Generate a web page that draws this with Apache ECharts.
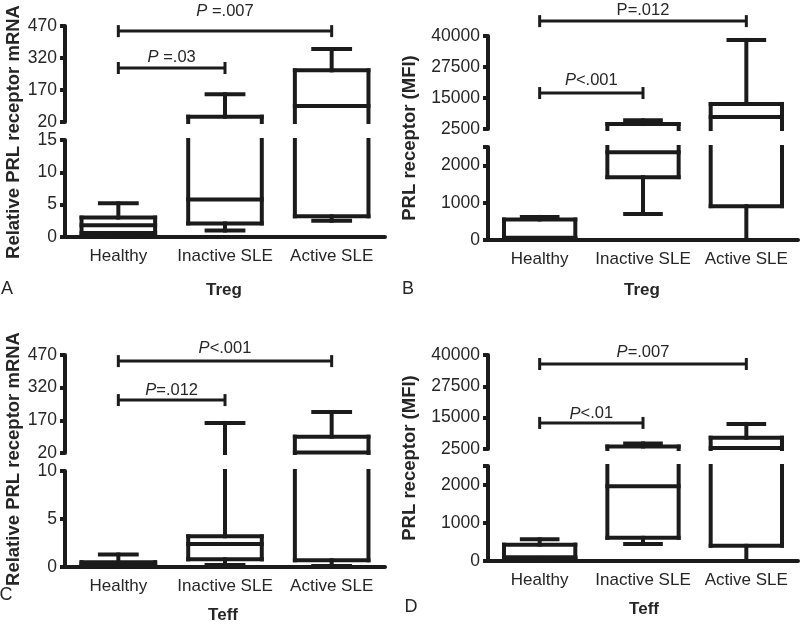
<!DOCTYPE html>
<html><head><meta charset="utf-8">
<script src="https://cdn.jsdelivr.net/npm/echarts@6/dist/echarts.min.js"></script>
<style>html,body{margin:0;padding:0;background:#fff}#c{width:800px;height:624px}</style>
</head><body><div id="c"></div>
<script>
const categories = ['Healthy', 'Inactive SLE', 'Active SLE'];
// each box: [min, Q1, median, Q3, max]
const tregMrna = [[0.1, 0.6, 1.8, 3.0, 5.2], [1.0, 2.1, 5.8, 45, 150], [2.5, 3.2, 95, 262, 362]];
const tregMfi  = [[0, 30, 60, 550, 620], [700, 1690, 2360, 4500, 6000], [0, 910, 7300, 12600, 38400]];
const teffMrna = [[0.05, 0.1, 0.3, 0.5, 1.3], [0.2, 0.8, 2.4, 3.2, 158], [0.1, 0.7, 22, 95, 208]];
const teffMfi  = [[0, 60, 100, 430, 570], [450, 610, 1970, 3500, 4700], [0, 400, 2900, 7000, 12500]];

const mrnaUpperTicks = [20, 170, 320, 470];
const mrnaLowerTicksA = [0, 5, 10, 15];
const mrnaLowerTicksC = [0, 5, 10];
const mfiUpperTicks = [2500, 15000, 27500, 40000];
const mfiLowerTicks = [0, 1000, 2000, 2500];
const mfiLowerLabels = [0, 1000, 2000];

// significance bars: [fromCategory, toCategory, value]
const pBarsA = [[0, 2, 446], [0, 1, 273]];
const pLabelsA = ['{i|P} =.007', '{i|P} =.03'];
const pBarsB = [[0, 2, 46000], [0, 1, 17000]];
const pLabelsB = ['P=.012', '{i|P}<.001'];
const pBarsC = [[0, 2, 442], [0, 1, 263]];
const pLabelsC = ['{i|P}<.001', '{i|P}=.012'];
const pBarsD = [[0, 2, 36400], [0, 1, 12900]];
const pLabelsD = ['{i|P}=.007', '{i|P}<.01'];

const LINE = '#1b1b1b';
const TXT = '#262626';
const FONT = '"Liberation Sans", Arial, Helvetica, sans-serif';
const LW = 4;
const BOX_RATIO = 0.69;

const panels = [
  {data: tregMrna, left: 65, width: 320, upTop: 26, upH: 96, lowTop: 140, lowH: 97, gaps: [20, 11],
   upTicks: mrnaUpperTicks, lowTicks: mrnaLowerTicksA, lowLabels: mrnaLowerTicksA, bars: pBarsA, labels: pLabelsA},
  {data: tregMfi, left: 488, width: 310, upTop: 36, upH: 93, lowTop: 147, lowH: 93, gaps: [11, 13],
   upTicks: mfiUpperTicks, lowTicks: mfiLowerTicks, lowLabels: mfiLowerLabels, bars: pBarsB, labels: pLabelsB},
  {data: teffMrna, left: 65, width: 320, upTop: 355, upH: 98, lowTop: 471, lowH: 96, gaps: [13, 10],
   upTicks: mrnaUpperTicks, lowTicks: mrnaLowerTicksC, lowLabels: mrnaLowerTicksC, bars: pBarsC, labels: pLabelsC},
  {data: teffMfi, left: 488, width: 310, upTop: 355, upH: 94, lowTop: 466, lowH: 95, gaps: [12, 9],
   upTicks: mfiUpperTicks, lowTicks: mfiLowerTicks, lowLabels: mfiLowerLabels, bars: pBarsD, labels: pLabelsD}
];

function boxRenderer(lo, hi) {
  return function (params, api) {
    const c = api.value(0);
    const mn = api.value(1), q1 = api.value(2), md = api.value(3), q3 = api.value(4), mx = api.value(5);
    const bw = api.size([1, 0])[0] * BOX_RATIO;
    const xc = api.coord([c, lo])[0];
    const Y = v => api.coord([c, Math.max(lo, Math.min(hi, v))])[1];
    const inR = v => v >= lo && v <= hi;
    const style = {stroke: LINE, lineWidth: LW, fill: null, lineCap: 'square'};
    const ch = [];
    const seg = (x1, y1, x2, y2) => ch.push({type: 'line', shape: {x1, y1, x2, y2}, style});
    const L = xc - bw / 2, R = xc + bw / 2;
    if (q3 > lo && q1 < hi) {
      seg(L, Y(q3), L, Y(q1));
      seg(R, Y(q3), R, Y(q1));
    }
    if (inR(q3)) seg(L, Y(q3), R, Y(q3));
    if (inR(q1)) seg(L, Y(q1), R, Y(q1));
    if (inR(md)) seg(L, Y(md), R, Y(md));
    if (mx > lo && q3 < hi) seg(xc, Y(q3), xc, Y(mx));
    if (inR(mx)) seg(xc - bw / 4, Y(mx), xc + bw / 4, Y(mx));
    if (q1 > lo && mn < hi) seg(xc, Y(mn), xc, Y(q1));
    if (inR(mn)) seg(xc - bw / 4, Y(mn), xc + bw / 4, Y(mn));
    return {type: 'group', children: ch};
  };
}

function pRenderer(labels, gaps) {
  return function (params, api) {
    const v = api.value(2);
    const p1 = api.coord([api.value(0), v]);
    const p2 = api.coord([api.value(1), v]);
    const style = {stroke: LINE, lineWidth: 3, fill: null};
    const rich = {i: {fontStyle: 'italic', fontSize: 16.5, fontFamily: FONT, fill: TXT}};
    return {type: 'group', children: [
      {type: 'line', shape: {x1: p1[0], y1: p1[1], x2: p2[0], y2: p2[1]}, style},
      {type: 'line', shape: {x1: p1[0], y1: p1[1] - 6, x2: p1[0], y2: p1[1] + 6}, style},
      {type: 'line', shape: {x1: p2[0], y1: p2[1] - 6, x2: p2[0], y2: p2[1] + 6}, style},
      {type: 'text', style: {text: labels[params.dataIndex], x: (p1[0] + p2[0]) / 2,
        y: p1[1] - gaps[params.dataIndex],
        align: 'center', verticalAlign: 'middle', fontSize: 16.5, fontFamily: FONT, fill: TXT, rich}}
    ]};
  };
}

const grid = [], xAxis = [], yAxis = [], series = [];
panels.forEach((p, k) => {
  const gu = k * 2, gl = k * 2 + 1;
  const upLo = p.upTicks[0], upHi = p.upTicks[p.upTicks.length - 1];
  const lowLo = p.lowTicks[0], lowHi = p.lowTicks[p.lowTicks.length - 1];
  grid.push({left: p.left, top: p.upTop, width: p.width, height: p.upH, containLabel: false, outerBoundsMode: 'none'});
  grid.push({left: p.left, top: p.lowTop, width: p.width, height: p.lowH, containLabel: false, outerBoundsMode: 'none'});
  xAxis.push({type: 'category', gridIndex: gu, data: categories, show: false});
  xAxis.push({type: 'category', gridIndex: gl, data: categories,
    axisLine: {lineStyle: {color: LINE, width: LW}},
    axisTick: {alignWithLabel: true, interval: 0, length: 6, lineStyle: {color: LINE, width: LW}},
    axisLabel: {interval: 0, margin: 11, fontSize: 17, fontFamily: FONT, color: TXT}});
  const yBase = {
    type: 'value', splitLine: {show: false},
    axisLine: {show: true, lineStyle: {color: LINE, width: LW}}
  };
  const fmt = v => String(v);
  yAxis.push(Object.assign({}, yBase, {gridIndex: gu, min: upLo, max: upHi,
    axisTick: {show: true, length: 5, customValues: p.upTicks, lineStyle: {color: LINE, width: LW}},
    axisLabel: {customValues: p.upTicks, formatter: fmt, margin: 8, fontSize: 17.5, fontFamily: FONT, color: TXT}}));
  yAxis.push(Object.assign({}, yBase, {gridIndex: gl, min: lowLo, max: lowHi,
    axisTick: {show: true, length: 5, customValues: p.lowTicks, lineStyle: {color: LINE, width: LW}},
    axisLabel: {customValues: p.lowLabels, formatter: fmt, margin: 8, fontSize: 17.5, fontFamily: FONT, color: TXT}}));
  const boxData = p.data.map((b, i) => [i].concat(b));
  series.push({type: 'custom', xAxisIndex: gu, yAxisIndex: gu, clip: false, silent: true,
    renderItem: boxRenderer(upLo, upHi), data: boxData});
  series.push({type: 'custom', xAxisIndex: gl, yAxisIndex: gl, clip: false, silent: true,
    renderItem: boxRenderer(lowLo, lowHi), data: boxData});
  series.push({type: 'custom', xAxisIndex: gu, yAxisIndex: gu, clip: false, silent: true,
    renderItem: pRenderer(p.labels, p.gaps), data: p.bars});
});

const texts = [
  {t: 'Relative PRL receptor mRNA', x: 14, y: 132, rot: true, bold: true, s: 18.5},
  {t: 'PRL receptor (MFI)', x: 410, y: 138, rot: true, bold: true, s: 18.5},
  {t: 'Relative PRL receptor mRNA', x: 14, y: 459, rot: true, bold: true, s: 18.5},
  {t: 'PRL receptor (MFI)', x: 410, y: 458, rot: true, bold: true, s: 18.5},
  {t: 'A', x: 7, y: 289, s: 18}, {t: 'B', x: 408, y: 289, s: 18},
  {t: 'C', x: 6, y: 595, s: 18}, {t: 'D', x: 411, y: 607, s: 18},
  {t: 'Treg', x: 224, y: 290, bold: true, s: 17}, {t: 'Treg', x: 642, y: 290, bold: true, s: 17},
  {t: 'Teff', x: 223, y: 615, bold: true, s: 17}, {t: 'Teff', x: 644, y: 609, bold: true, s: 17}
];
const graphic = texts.map(o => ({
  type: 'text', x: o.x, y: o.y, rotation: o.rot ? Math.PI / 2 : 0, silent: true,
  style: {text: o.t, align: 'center', verticalAlign: 'middle', fontSize: o.s,
    fontWeight: o.bold ? 'bold' : 'normal', fontFamily: FONT, fill: TXT}
}));

const chart = echarts.init(document.getElementById('c'), null, {renderer: 'canvas'});
chart.setOption({animation: false, backgroundColor: '#fff', grid, xAxis, yAxis, series, graphic});
</script></body></html>
